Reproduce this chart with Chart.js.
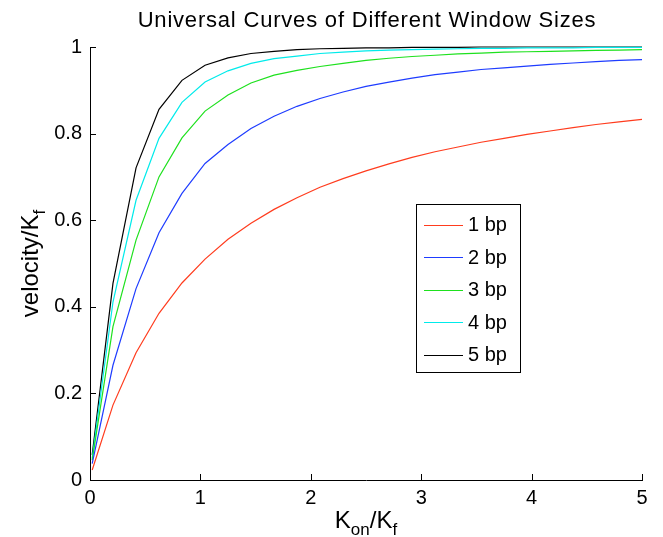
<!DOCTYPE html>
<html>
<head>
<meta charset="utf-8">
<title>Universal Curves of Different Window Sizes</title>
<script src="https://cdn.jsdelivr.net/npm/chart.js@4.4.0/dist/chart.umd.min.js"></script>
<style>
  html, body { margin: 0; padding: 0; background: #fff; }
  #wrap { width: 663px; height: 537px; position: relative; }
</style>
</head>
<body>
<div id="wrap"><canvas id="curveChart"></canvas></div>
<script>
// K_on/K_f sample points
var kRatio = [0.02, 0.208, 0.417, 0.625, 0.833, 1.042, 1.25, 1.458, 1.667, 1.875, 2.083, 2.292, 2.5,
    2.708, 2.917, 3.125, 3.333, 3.542, 3.75, 3.958, 4.167, 4.375, 4.583, 4.792, 5.0];

var seriesNames = ['1 bp', '2 bp', '3 bp', '4 bp', '5 bp'];

var bp1 = [0.023, 0.173, 0.294, 0.385, 0.455, 0.510, 0.556, 0.593, 0.625, 0.652, 0.676, 0.696, 0.714,
    0.730, 0.745, 0.758, 0.769, 0.780, 0.789, 0.798, 0.806, 0.814, 0.821, 0.827, 0.833];
var bp2 = [0.038, 0.265, 0.442, 0.571, 0.662, 0.731, 0.775, 0.812, 0.840, 0.863, 0.881, 0.896, 0.909,
    0.919, 0.928, 0.936, 0.942, 0.948, 0.952, 0.956, 0.960, 0.963, 0.966, 0.969, 0.971];
var bp3 = [0.046, 0.354, 0.554, 0.700, 0.790, 0.852, 0.889, 0.917, 0.935, 0.946, 0.955, 0.962, 0.969,
    0.974, 0.978, 0.981, 0.984, 0.986, 0.988, 0.989, 0.990, 0.991, 0.992, 0.993, 0.994];
var bp4 = [0.050, 0.411, 0.646, 0.789, 0.872, 0.919, 0.945, 0.962, 0.973, 0.979, 0.985, 0.988, 0.991,
    0.993, 0.994, 0.995, 0.996, 0.997, 0.997, 0.998, 0.998, 0.998, 0.999, 0.999, 0.999];
var bp5 = [0.058, 0.454, 0.721, 0.856, 0.923, 0.958, 0.975, 0.985, 0.990, 0.994, 0.996, 0.997, 0.998,
    0.998, 0.999, 0.999, 0.999, 1.0, 1.0, 1.0, 1.0, 1.0, 1.0, 1.0, 1.0];

var xTicks = [0, 1, 2, 3, 4, 5];
var yTicks = [0, 0.2, 0.4, 0.6, 0.8, 1];

var lineColors = ['rgb(255,60,30)', 'rgb(30,60,255)', 'rgb(30,225,30)', 'rgb(0,235,235)', 'rgb(0,0,0)'];
var FONT = '"Liberation Sans", Arial, Helvetica, sans-serif';

function toPoints(ys) {
    return kRatio.map(function (x, i) { return { x: x, y: ys[i] }; });
}

// draw text pieces where some are subscripts, centred on cx
function drawSubText(ctx, parts, cx, baseline, size) {
    var subSize = Math.round(size * 0.72);
    var total = 0;
    parts.forEach(function (p) {
        ctx.font = (p.sub ? subSize : size) + 'px ' + FONT;
        p.w = ctx.measureText(p.t).width;
        total += p.w;
    });
    var x = cx - total / 2;
    ctx.textAlign = 'left';
    ctx.textBaseline = 'alphabetic';
    parts.forEach(function (p) {
        ctx.font = (p.sub ? subSize : size) + 'px ' + FONT;
        ctx.fillText(p.t, x, baseline + (p.sub ? size * 0.3 : 0));
        x += p.w;
    });
}

var matlabDecor = {
    id: 'matlabDecor',
    afterDraw: function (chart) {
        var ctx = chart.ctx;
        var area = chart.chartArea;
        var xs = chart.scales.x, ys = chart.scales.y;
        ctx.save();

        // inward tick marks
        ctx.strokeStyle = '#000';
        ctx.lineWidth = 1;
        ctx.beginPath();
        xTicks.forEach(function (v) {
            var px = Math.round(xs.getPixelForValue(v)) + 0.5;
            ctx.moveTo(px, area.bottom);
            ctx.lineTo(px, area.bottom - 6);
        });
        yTicks.forEach(function (v) {
            var py = Math.round(ys.getPixelForValue(v)) + 0.5;
            ctx.moveTo(area.left, py);
            ctx.lineTo(area.left + 6, py);
        });
        ctx.stroke();

        // title
        ctx.fillStyle = '#000';
        ctx.font = '22px ' + FONT;
        ctx.letterSpacing = '0.8px';
        ctx.textAlign = 'center';
        ctx.textBaseline = 'alphabetic';
        ctx.fillText('Universal Curves of Different Window Sizes', 367, 27);
        ctx.letterSpacing = '0px';

        // x axis title
        drawSubText(ctx, [{ t: 'K' }, { t: 'on', sub: true }, { t: '/K' }, { t: 'f', sub: true }],
            (area.left + area.right) / 2, 528, 24);

        // y axis title
        ctx.save();
        ctx.translate(38, (area.top + area.bottom) / 2);
        ctx.rotate(-Math.PI / 2);
        drawSubText(ctx, [{ t: 'velocity/K' }, { t: 'f', sub: true }], 0, 0, 24);
        ctx.restore();

        // legend box
        var bx = 416, by = 204, bw = 104, bh = 168;
        ctx.fillStyle = '#fff';
        ctx.fillRect(bx, by, bw, bh);
        ctx.strokeStyle = '#000';
        ctx.lineWidth = 1;
        ctx.strokeRect(bx + 0.5, by + 0.5, bw, bh);
        ctx.font = '20px ' + FONT;
        ctx.textAlign = 'left';
        ctx.textBaseline = 'middle';
        chart.data.datasets.forEach(function (ds, i) {
            var ly = by + 20.5 + i * 32.5;
            ctx.strokeStyle = ds.borderColor;
            ctx.beginPath();
            ctx.moveTo(bx + 8, Math.round(ly) + 0.5);
            ctx.lineTo(bx + 47, Math.round(ly) + 0.5);
            ctx.stroke();
            ctx.fillStyle = '#000';
            ctx.fillText(ds.label, bx + 52, ly + 1);
        });
        ctx.restore();
    }
};

var datasets = [bp1, bp2, bp3, bp4, bp5].map(function (ys, i) {
    return {
        label: seriesNames[i],
        data: toPoints(ys),
        borderColor: lineColors[i],
        backgroundColor: lineColors[i],
        borderWidth: 1.2,
        pointRadius: 0,
        tension: 0,
        fill: false,
        clip: false
    };
});

new Chart(document.getElementById('curveChart').getContext('2d'), {
    type: 'line',
    data: { datasets: datasets },
    options: {
        responsive: true,
        maintainAspectRatio: false,
        animation: false,
        events: [],
        layout: { padding: { top: 47, right: 21, left: 0, bottom: 0 } },
        plugins: {
            legend: { display: false },
            title: { display: false },
            tooltip: { enabled: false }
        },
        scales: {
            x: {
                type: 'linear',
                min: 0,
                max: 5,
                afterFit: function (scale) { scale.height = 57; },
                afterBuildTicks: function (scale) {
                    scale.ticks = xTicks.map(function (v) { return { value: v }; });
                },
                grid: { drawOnChartArea: false, drawTicks: false },
                border: { display: true, color: '#000', width: 1 },
                ticks: {
                    padding: 6,
                    color: '#000',
                    font: { family: FONT, size: 20 },
                    maxRotation: 0
                }
            },
            y: {
                type: 'linear',
                min: 0,
                max: 1,
                afterFit: function (scale) { scale.width = 90; },
                afterBuildTicks: function (scale) {
                    scale.ticks = yTicks.map(function (v) { return { value: v }; });
                },
                grid: { drawOnChartArea: false, drawTicks: false },
                border: { display: true, color: '#000', width: 1 },
                ticks: {
                    padding: 8,
                    color: '#000',
                    font: { family: FONT, size: 20 },
                    callback: function (v) { return String(Math.round(v * 10) / 10); }
                }
            }
        }
    },
    plugins: [matlabDecor]
});
</script>
</body>
</html>
